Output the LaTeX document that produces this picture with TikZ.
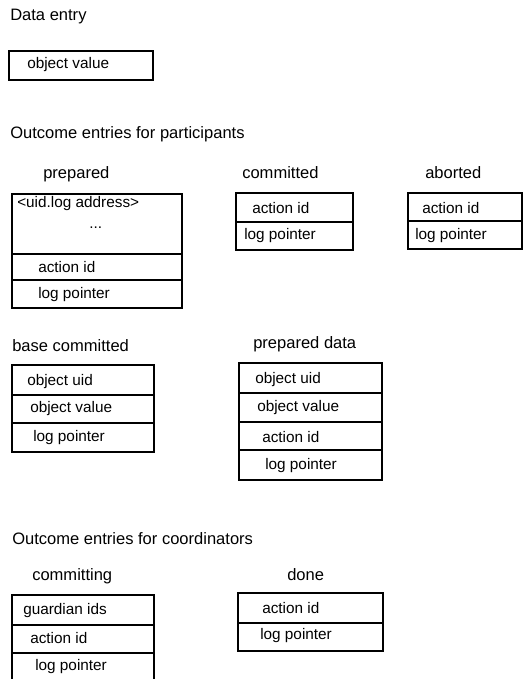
\documentclass[tikz,border=0pt]{standalone}
\usepackage{fontspec}
\setmainfont{Liberation Sans}

\begin{document}
\begin{tikzpicture}[x=0.75pt,y=-0.75pt,
        heading/.style={anchor=west,inner sep=0pt,font=\fontsize{12.4}{14}\selectfont},
        field/.style={anchor=west,inner sep=0pt,font=\fontsize{11.5}{14}\selectfont},
        entry/.style={line width=1.4pt}]
        \useasboundingbox (0,0) rectangle (524,679);

        % we draw the data entry
        \node[heading] (dataTitle) at (10,17) {Data entry};
        \draw[entry] (9,51) rectangle (153,80);
        \node[field] (dataVal) at (27,65) {object value};

        % we draw the outcome entries for participants
        \node[heading] (partTitle) at (10,134) {Outcome entries for participants};

        \node[heading] (prepTitle) at (43,174) {prepared};
        \draw[entry] (12,194) rectangle (182,308);
        \draw[entry] (12,254) -- (182,254);
        \draw[entry] (12,280) -- (182,280);
        \node[field] (prepUid) at (17,204) {<uid.log address>};
        \node[field] (prepDots) at (89,228) {...};
        \node[field] (prepAct) at (38,267) {action id};
        \node[field] (prepLog) at (38,295) {log pointer};

        \node[heading] (commTitle) at (242,173) {committed};
        \draw[entry] (236,193) rectangle (353,250);
        \draw[entry] (236,222) -- (353,222);
        \node[field] (commAct) at (252,208) {action id};
        \node[field] (commLog) at (244,236) {log pointer};

        \node[heading] (abTitle) at (425,173) {aborted};
        \draw[entry] (408,193) rectangle (522,249);
        \draw[entry] (408,221) -- (522,221);
        \node[field] (abAct) at (422,208) {action id};
        \node[field] (abLog) at (415,236) {log pointer};

        \node[heading] (baseTitle) at (12,346) {base committed};
        \draw[entry] (12,365) rectangle (154,452);
        \draw[entry] (12,395) -- (154,395);
        \draw[entry] (12,423) -- (154,423);
        \node[field] (baseUid) at (27,382) {object uid};
        \node[field] (baseVal) at (30,409) {object value};
        \node[field] (baseLog) at (33,438) {log pointer};

        \node[heading] (pdTitle) at (253,344) {prepared data};
        \draw[entry] (239,363) rectangle (382,480);
        \draw[entry] (239,393) -- (382,393);
        \draw[entry] (239,422) -- (382,422);
        \draw[entry] (239,450) -- (382,450);
        \node[field] (pdUid) at (255,380) {object uid};
        \node[field] (pdVal) at (257,408) {object value};
        \node[field] (pdAct) at (262,437) {action id};
        \node[field] (pdLog) at (265,466) {log pointer};

        % we draw the outcome entries for coordinators
        \node[heading] (coordTitle) at (12,539) {Outcome entries for coordinators};

        \node[heading] (cingTitle) at (32,576) {committing};
        \draw[entry] (12,679) -- (12,595) -- (154,595) -- (154,679);
        \draw[entry] (12,625) -- (154,625);
        \draw[entry] (12,653) -- (154,653);
        \node[field] (cingGuard) at (23,611) {guardian ids};
        \node[field] (cingAct) at (30,638) {action id};
        \node[field] (cingLog) at (35,667) {log pointer};

        \node[heading] (doneTitle) at (287,575) {done};
        \draw[entry] (238,593) rectangle (383,651);
        \draw[entry] (238,623) -- (383,623);
        \node[field] (doneAct) at (262,608) {action id};
        \node[field] (doneLog) at (260,636) {log pointer};
    \end{tikzpicture}
\end{document}
